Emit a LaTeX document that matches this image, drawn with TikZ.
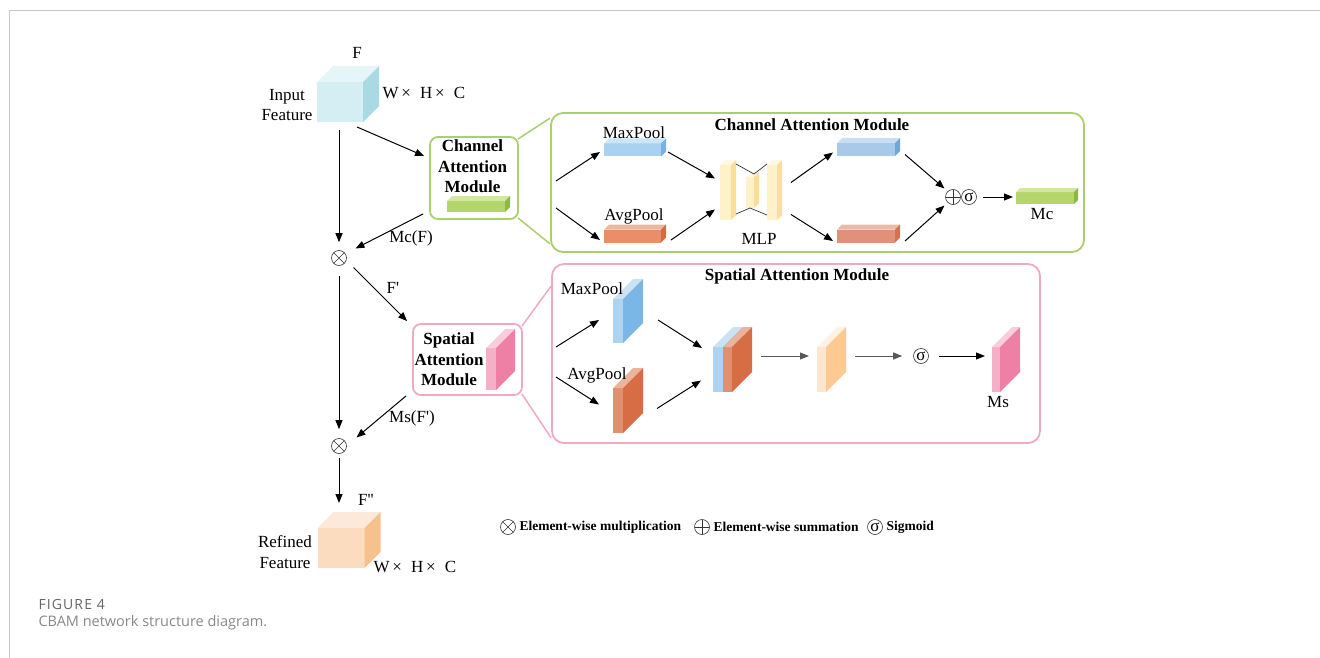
\documentclass[tikz,border=0pt]{standalone}
\usepackage{fontspec}
\setmainfont{Liberation Serif}[Ligatures=TeXOff]
\newfontfamily\capfont{Open Sans}
\newfontfamily\figfont[LetterSpace=8]{Open Sans}
\usetikzlibrary{arrows.meta,calc}

\definecolor{framegray}{HTML}{C8C8C8}
\definecolor{figgray}{HTML}{666666}
\definecolor{capgray}{HTML}{888888}
\definecolor{camline}{HTML}{A9D06D}
\definecolor{samline}{HTML}{F0A9C1}
\definecolor{cyanF}{HTML}{D5EEF4}
\definecolor{cyanT}{HTML}{E6F5F8}
\definecolor{cyanS}{HTML}{A9DAE4}
\definecolor{peachF}{HTML}{FCDCBF}
\definecolor{peachT}{HTML}{FDE9DA}
\definecolor{peachS}{HTML}{F6C18D}
\definecolor{greenF}{HTML}{B4D56A}
\definecolor{greenT}{HTML}{D2E7A3}
\definecolor{greenS}{HTML}{8DB843}
\definecolor{pinkF}{HTML}{F3B0C6}
\definecolor{pinkT}{HTML}{F8CEDB}
\definecolor{pinkS}{HTML}{EE80A6}
\definecolor{blueF}{HTML}{A9D2F2}
\definecolor{blueT}{HTML}{CDE5F8}
\definecolor{blueS}{HTML}{74B2E6}
\definecolor{blue2F}{HTML}{A8C9E7}
\definecolor{blue2T}{HTML}{CADEF1}
\definecolor{blue2S}{HTML}{6FA6DC}
\definecolor{orF}{HTML}{E98E69}
\definecolor{orT}{HTML}{F0B59D}
\definecolor{orS}{HTML}{D9693F}
\definecolor{or2F}{HTML}{E0917A}
\definecolor{or2T}{HTML}{EDB8A6}
\definecolor{or2S}{HTML}{D7714F}
\definecolor{sblueF}{HTML}{ACD3F0}
\definecolor{sblueT}{HTML}{CBE2F5}
\definecolor{sblueS}{HTML}{7AB6E6}
\definecolor{sorF}{HTML}{E0906E}
\definecolor{sorT}{HTML}{EBB39B}
\definecolor{sorS}{HTML}{D76D45}
\definecolor{yelF}{HTML}{FFF1C8}
\definecolor{yelT}{HTML}{FFF8E4}
\definecolor{yelS}{HTML}{FCDE98}
\definecolor{lorF}{HTML}{FFE6CC}
\definecolor{lorT}{HTML}{FFF1E3}
\definecolor{lorS}{HTML}{FFCA92}

% #1 name, #2 position, #3 width, #4 height, #5 depth, #6 front, #7 top, #8 side
\newcommand{\slab}[8]{%
  \node[fill=#6, minimum width=#3, minimum height=#4, inner sep=0pt, outer sep=0pt] (#1) at (#2) {};
  \fill[#7] (#1.north west) -- ++(#5,-#5) -- ($(#1.north east)+(#5,-#5)$) -- (#1.north east) -- cycle;
  \fill[#8] (#1.north east) -- ++(#5,-#5) -- ($(#1.south east)+(#5,-#5)$) -- (#1.south east) -- cycle;
}
\newcommand{\tms}{\hspace{0.15em}×\hspace{0.55em}}

\tikzset{
  lbl/.style={font=\fontsize{17}{20.5}\selectfont, align=center, inner sep=0pt},
  blbl/.style={lbl, font=\bfseries\fontsize{17}{20.5}\selectfont},
  leg/.style={font=\bfseries\fontsize{13.5}{16}\selectfont, inner sep=0pt},
  op/.style={circle, draw=black!80, line width=0.6pt, minimum size=15pt, inner sep=0pt},
  opmul/.style={op, path picture={\draw[black!80, line width=0.6pt]
    (path picture bounding box.north west) -- (path picture bounding box.south east)
    (path picture bounding box.north east) -- (path picture bounding box.south west);}},
  opsum/.style={op, path picture={\draw[black!80, line width=0.6pt]
    (path picture bounding box.north) -- (path picture bounding box.south)
    (path picture bounding box.west) -- (path picture bounding box.east);}},
  opsig/.style={op, font=\fontsize{17}{17}\selectfont},
  modbox/.style={rounded corners=8pt, line width=1.8pt, inner sep=0pt},
}

\begin{document}
\begin{tikzpicture}[x=1pt, y=-1pt, >={Triangle[length=9pt, width=7pt]}, line width=1pt]

    \useasboundingbox (0,0) rectangle (1320,658);
    \draw[framegray] (9,658) -- (9,11) -- (1320,11);

    % input feature
    \slab{incube}{340,102}{46pt}{40pt}{16}{cyanF}{cyanT}{cyanS}
    \node[lbl] (finlab) at (357,53) {F};
    \node[lbl] (inlab) at (287,105) {Input\\Feature};
    \node[lbl] (insize) at (424,93) {W\tms H\tms C};

    % channel attention, small box
    \node[modbox, draw=camline, minimum width=88pt, minimum height=82pt] (cam) at (474,178) {};
    \node[blbl] (camtext) at (472.5,166.5) {Channel\\Attention\\Module};
    \slab{cbar}{476,206.5}{58pt}{11pt}{5}{greenF}{greenT}{greenS}

    % channel attention, big box
    \node[modbox, draw=camline, rounded corners=12pt, minimum width=533pt, minimum height=139pt] (cbig) at (817.5,182.5) {};
    \node[blbl] (cbigtitle) at (812,125) {Channel Attention Module};
    \draw[camline, line width=1.5pt] ($(cam.north east)+(-1,3)$) -- ($(cbig.north west)+(0,6)$);
    \draw[camline, line width=1.5pt] ($(cam.south east)+(-1,-2)$) -- ($(cbig.south west)+(0,-9)$);

    \coordinate (csp1) at (556,181);
    \coordinate (csp2) at (556,208);
    \slab{cmax}{632.5,150}{57pt}{13pt}{5}{blueF}{blueT}{blueS}
    \slab{cavg}{632.5,236}{57pt}{13pt}{5}{orF}{orT}{orS}
    \node[lbl] (cmaxlab) at (634,133) {MaxPool};
    \node[lbl] (cavglab) at (634,216) {AvgPool};

    \slab{mlp1}{725.5,192.5}{11pt}{55pt}{5}{yelF}{yelT}{yelS}
    \slab{mlp2}{750,192.5}{8pt}{31pt}{5}{yelF}{yelT}{yelS}
    \slab{mlp3}{772,192.5}{10pt}{55pt}{5}{yelF}{yelT}{yelS}
    \draw[black!80, line width=0.7pt] ($(mlp1.north east)+(5,-1)$) -- ($(mlp2.north east)+(0,-3)$) -- ($(mlp3.north west)+(0,-1)$);
    \draw[black!80, line width=0.7pt] ($(mlp1.south east)+(5,-6)$) -- (mlp2.south) -- ($(mlp3.south west)+(0,-5)$);
    \node[lbl] (mlplab) at (759,239) {MLP};

    \slab{cmax2}{866,149.5}{58pt}{13pt}{5}{blue2F}{blue2T}{blue2S}
    \slab{cavg2}{866,236}{58pt}{13pt}{5}{or2F}{or2T}{or2S}
    \node[opsum] (csum) at (953,197) {};
    \node[opsig] (csig) at (969,197) {σ};
    \slab{mc}{1045,198}{58pt}{12pt}{4}{greenF}{greenT}{greenS}
    \node[lbl] (mclab) at (1042,214) {Mc};

    \draw[->] (csp1) -- ($(cmax.west)+(-4,2)$);
    \draw[->] (csp2) -- ($(cavg.west)+(-4,4)$);
    \draw[->] ($(cmax.east)+(7,2)$) -- ($(mlp1.west)+(-5,-14)$);
    \draw[->] ($(cavg.east)+(10,4)$) -- ($(mlp1.west)+(-5,17)$);
    \draw[->] ($(mlp3.east)+(14,-10)$) -- ($(cmax2.west)+(-4,3)$);
    \draw[->] ($(mlp3.east)+(14,22)$) -- ($(cavg2.west)+(-4,5)$);
    \draw[->] ($(cmax2.east)+(10,5)$) -- ($(csum.north west)+(-3,-3)$);
    \draw[->] ($(cavg2.east)+(10,5)$) -- ($(csum.south west)+(-3,3)$);
    \draw[->] ($(csig.east)+(6,0)$) -- ($(mc.west)+(-3,-1)$);

    % spatial attention, small box
    \node[modbox, draw=samline, minimum width=109pt, minimum height=71pt] (sam) at (467.5,359.5) {};
    \node[blbl] (samtext) at (449,359.5) {Spatial\\Attention\\Module};
    \slab{sslab}{491,369}{10pt}{42pt}{19}{pinkF}{pinkT}{pinkS}

    % spatial attention, big box
    \node[modbox, draw=samline, rounded corners=12pt, minimum width=488pt, minimum height=179pt] (sbig) at (796,353.5) {};
    \node[blbl] (sbigtitle) at (797,276) {Spatial Attention Module};
    \draw[samline, line width=1.5pt] ($(sam.north east)+(-1,3)$) -- ($(sbig.north west)+(0,23)$);
    \draw[samline, line width=1.5pt] ($(sam.south east)+(-1,-2)$) -- ($(sbig.south west)+(0,-6)$);

    \coordinate (ssp1) at (556,347);
    \coordinate (ssp2) at (556,377);
    \slab{smax}{618,321}{10pt}{44pt}{20}{sblueF}{sblueT}{sblueS}
    \slab{savg}{618,410.5}{10pt}{45pt}{20}{sorF}{sorT}{sorS}
    \node[lbl] (smaxlab) at (592,289) {MaxPool};
    \node[lbl] (savglab) at (597,375) {AvgPool};
    \slab{scat1}{718,369.5}{10pt}{45pt}{20}{sblueF}{sblueT}{sblueS}
    \slab{scat2}{727.5,369.5}{9pt}{45pt}{20}{sorF}{sorT}{sorS}
    \slab{sconv}{821.5,369.5}{9pt}{45pt}{20}{lorF}{lorT}{lorS}
    \node[opsig] (ssig) at (921,356) {σ};
    \slab{ms}{996,369.5}{8pt}{45pt}{20}{pinkF}{pinkT}{pinkS}
    \node[lbl] (mslab) at (998,402) {Ms};

    \draw[->] (ssp1) -- ($(smax.west)+(-14,-1)$);
    \draw[->] (ssp2) -- ($(savg.west)+(-14,-6)$);
    \draw[->] ($(smax.east)+(35,-1)$) -- ($(scat1.west)+(-11,-21.5)$);
    \draw[->] ($(savg.east)+(34,-2)$) -- ($(scat1.west)+(-12,11)$);
    \draw[->, black!65] ($(scat2.east)+(29,-13.5)$) -- ($(sconv.west)+(-8,-13.5)$);
    \draw[->, black!65] ($(sconv.east)+(29,-13.5)$) -- ($(ssig.west)+(-11,0)$);
    \draw[->] ($(ssig.east)+(10,0)$) -- ($(ms.west)+(-7,-13.5)$);

    % main flow
    \node[opmul] (mul1) at (339,258) {};
    \node[opmul] (mul2) at (339,446) {};
    \slab{outcube}{341,548}{47pt}{40pt}{16}{peachF}{peachT}{peachS}

    \draw[->] ($(incube.south)+(-1,8)$) -- ($(mul1.north)+(0,-8)$);
    \draw[->] ($(incube.south east)+(-6,5)$) -- ($(cam.west)+(-5,-22)$);
    \draw[->] ($(cam.south west)+(-6,-6)$) -- ($(mul1.north east)+(11,-4)$);
    \node[lbl] (mcflab) at (411,238) {Mc(F)};
    \draw[->] ($(mul1.south east)+(9,4)$) -- ($(sam.north west)+(-5,-2)$);
    \node[lbl] (fplab) at (393,288) {F'};
    \draw[->] ($(mul1.south)+(0,10)$) -- ($(mul2.north)+(0,-9)$);
    \draw[->] ($(sam.south west)+(-6,0)$) -- ($(mul2.north east)+(12,-3)$);
    \node[lbl] (msflab) at (412,418) {Ms(F')};
    \draw[->] ($(mul2.south)+(0,4)$) -- ($(outcube.north)+(-2,-25)$);

    \node[lbl] (fpplab) at (366,500) {F''};
    \node[lbl] (outlab) at (285,552) {Refined\\Feature};
    \node[lbl] (outsize) at (415,567) {W\tms H\tms C};

    % legend
    \node[opmul, minimum size=15pt] (lmul) at (508,527) {};
    \node[leg, anchor=west] (lmultext) at (519,527) {Element-wise multiplication};
    \node[opsum, minimum size=15pt] (lsum) at (702,527) {};
    \node[leg, anchor=west] (lsumtext) at (713,527) {Element-wise summation};
    \node[opsig, minimum size=15pt] (lsig) at (875,527) {σ};
    \node[leg, anchor=west] (lsigtext) at (886,527) {Sigmoid};

    % caption
    \node[anchor=west, inner sep=0pt, text=figgray, font=\figfont\fontsize{14}{17}\selectfont] (fignum) at (38,604) {FIGURE 4};
    \node[anchor=west, inner sep=0pt, text=capgray, font=\capfont\fontsize{14.5}{18}\selectfont] (figcap) at (38,623) {CBAM network structure diagram.};

\end{tikzpicture}
\end{document}
